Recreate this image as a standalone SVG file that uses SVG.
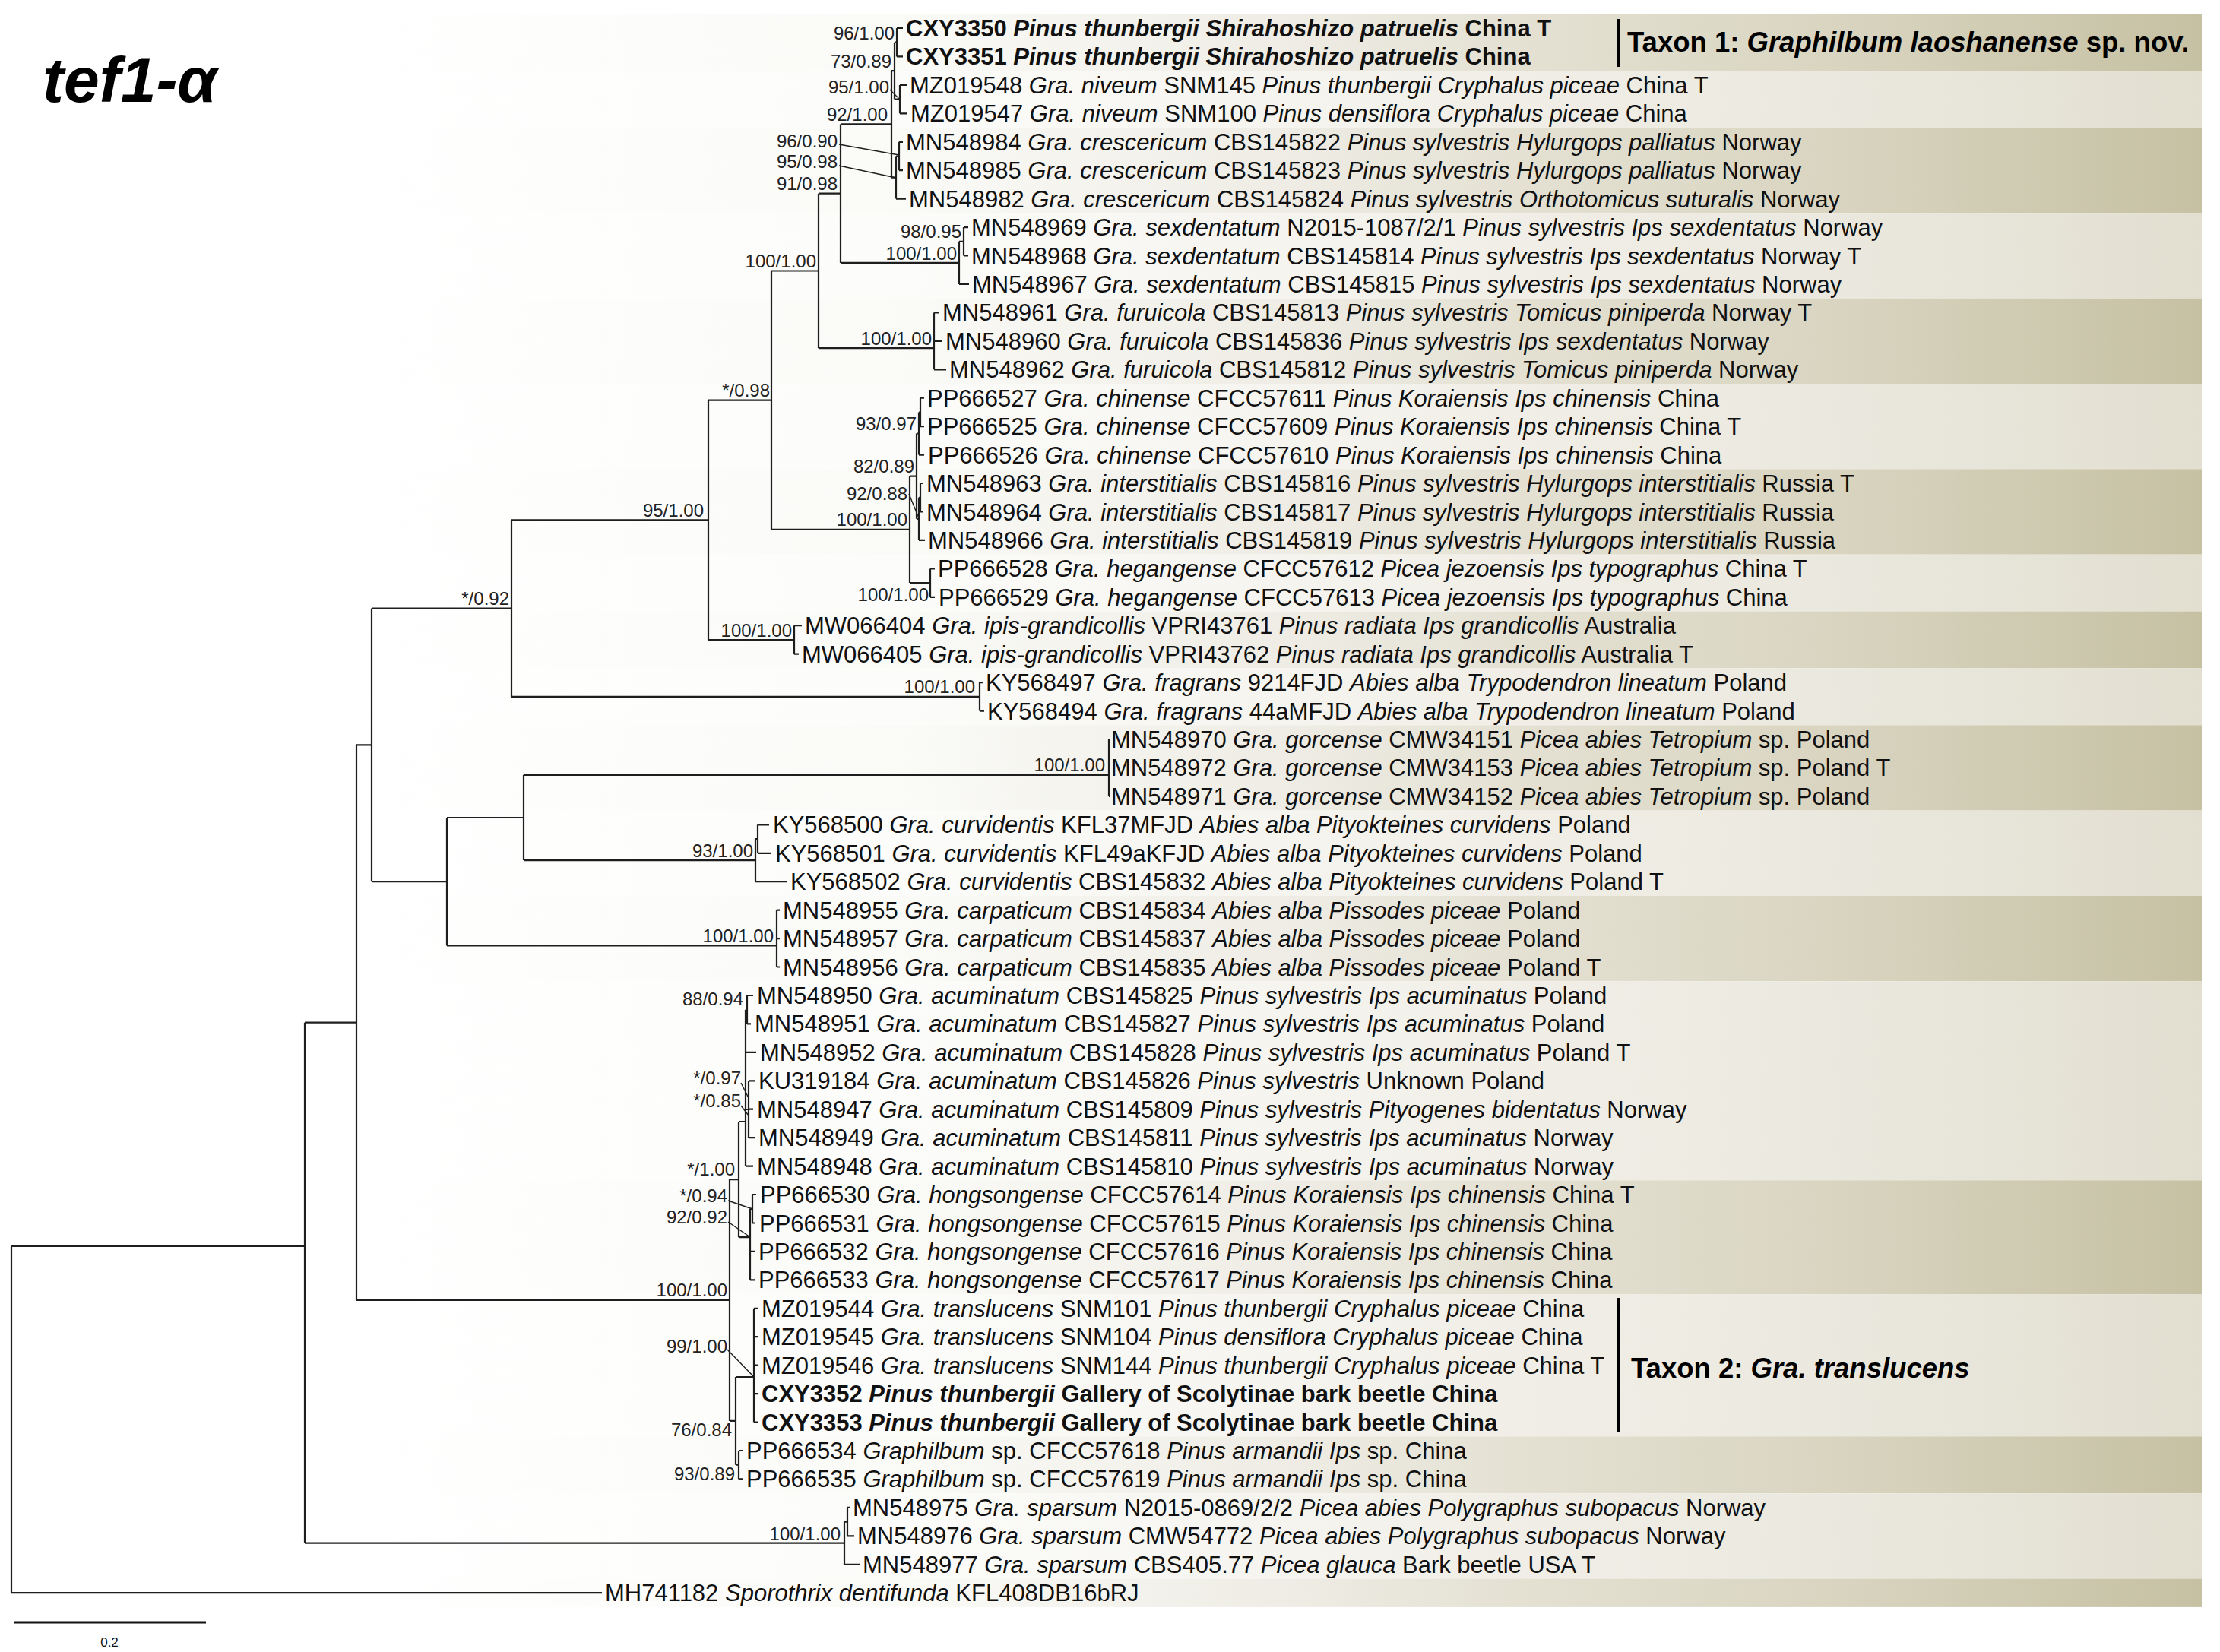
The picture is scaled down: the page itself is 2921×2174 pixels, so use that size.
<svg xmlns="http://www.w3.org/2000/svg" width="2921" height="2174" viewBox="0 0 2921 2174">
<style>
.t{font-family:"Liberation Sans",Arial,sans-serif;font-size:31px;fill:#111}
.i{font-style:italic}
.b{font-weight:bold}
.s{font-family:"Liberation Sans",Arial,sans-serif;font-size:24px;fill:#222;text-anchor:end}
.br{fill:none;stroke:#1e1e1e;stroke-width:2.2}
.ld{fill:none;stroke:#1e1e1e;stroke-width:1.4}
.tx{font-family:"Liberation Sans",Arial,sans-serif;font-size:36.5px;font-weight:bold;fill:#000}
</style>
<defs>
<linearGradient id="gd" gradientUnits="userSpaceOnUse" x1="480" y1="0" x2="2897" y2="0">
<stop offset="0" stop-color="#ffffff"/><stop offset="0.298" stop-color="#fafaf7"/><stop offset="0.505" stop-color="#eeece4"/><stop offset="0.629" stop-color="#e4e1d3"/><stop offset="0.794" stop-color="#d9d5c1"/><stop offset="1" stop-color="#c6c1a3"/>
</linearGradient>
<linearGradient id="gl" gradientUnits="userSpaceOnUse" x1="480" y1="0" x2="2897" y2="0">
<stop offset="0" stop-color="#ffffff"/><stop offset="0.298" stop-color="#fcfcfa"/><stop offset="0.505" stop-color="#f5f4ef"/><stop offset="0.629" stop-color="#f0eee6"/><stop offset="0.794" stop-color="#ebe9df"/><stop offset="1" stop-color="#e2dfd1"/>
</linearGradient>
</defs>
<rect width="2921" height="2174" fill="#ffffff"/>
<g id="bands">
<rect x="0" y="18.3" width="2897" height="74.9" fill="url(#gd)"/>
<rect x="0" y="93.2" width="2897" height="74.9" fill="url(#gl)"/>
<rect x="0" y="168.1" width="2897" height="112.3" fill="url(#gd)"/>
<rect x="0" y="280.4" width="2897" height="112.3" fill="url(#gl)"/>
<rect x="0" y="392.7" width="2897" height="112.3" fill="url(#gd)"/>
<rect x="0" y="505.0" width="2897" height="112.3" fill="url(#gl)"/>
<rect x="0" y="617.3" width="2897" height="112.4" fill="url(#gd)"/>
<rect x="0" y="729.7" width="2897" height="74.8" fill="url(#gl)"/>
<rect x="0" y="804.5" width="2897" height="74.9" fill="url(#gd)"/>
<rect x="0" y="879.4" width="2897" height="74.9" fill="url(#gl)"/>
<rect x="0" y="954.3" width="2897" height="112.3" fill="url(#gd)"/>
<rect x="0" y="1066.6" width="2897" height="112.3" fill="url(#gl)"/>
<rect x="0" y="1178.9" width="2897" height="112.4" fill="url(#gd)"/>
<rect x="0" y="1291.3" width="2897" height="262.0" fill="url(#gl)"/>
<rect x="0" y="1553.3" width="2897" height="149.8" fill="url(#gd)"/>
<rect x="0" y="1703.1" width="2897" height="187.2" fill="url(#gl)"/>
<rect x="0" y="1890.3" width="2897" height="74.9" fill="url(#gd)"/>
<rect x="0" y="1965.2" width="2897" height="112.3" fill="url(#gl)"/>
<rect x="0" y="2077.5" width="2897" height="37.4" fill="url(#gd)"/>
</g>
<text x="56" y="134" font-family="Liberation Sans, Arial, sans-serif" font-size="84" font-weight="bold" font-style="italic" fill="#000">tef1-α</text>
<g id="connectors">
<path class="br" d="M15 1640V2096.2M15 1640H401M15 2096.2H792M401 1345.7V2030.7M401 1345.7H469M401 2030.7H1111M469 980.4V1711M469 980.4H489M469 1711H960M489 800.6V1160.2M489 800.6H673M489 1160.2H588M673 684.3V916.9M673 684.3H932M673 916.9H1289M932 526.7V842M932 526.7H1015M932 842H1045M1015 356.5V696.9M1015 356.5H1077M1015 696.9H1197M1077 254.7V458.2M1077 254.7H1106M1077 458.2H1229M1106 163.4V345.9M1106 163.4H1173M1106 345.9H1262M1173 93.2V233.6M1173 93.2H1177M1173 233.6H1179M1177 55.7V130.6M1177 55.7H1180M1177 130.6H1184M1180 37V74.4M1180 37H1188M1180 74.4H1188M1184 111.9V149.3M1184 111.9H1193M1184 149.3H1194M1179 205.5V261.6M1179 205.5H1183M1179 261.6H1192M1183 186.8V224.2M1183 186.8H1188M1183 224.2H1188M1262 317.8V374M1262 317.8H1268M1262 374H1275M1268 299.1V336.5M1268 299.1H1274M1268 336.5H1274M1229 411.4V486.3M1229 411.4H1236M1229 448.8H1240M1229 486.3H1245M1197 626.7V767.1M1197 626.7H1206M1197 767.1H1224M1206 570.5V682.8M1206 570.5H1209M1206 682.8H1209M1209 542.5V598.6M1209 542.5H1211M1209 598.6H1216M1211 523.7V561.2M1211 523.7H1216M1211 561.2H1216M1209 654.8V710.9M1209 654.8H1211M1209 710.9H1217M1211 636V673.5M1211 636H1215M1211 673.5H1215M1224 748.4V785.8M1224 748.4H1230M1224 785.8H1230M1045 823.2V860.7M1045 823.2H1055M1045 860.7H1051M1289 898.1V935.6M1289 898.1H1293M1289 935.6H1295M588 1076V1244.4M588 1076H689M588 1244.4H1022M689 1019.8V1132.1M689 1019.8H1459M689 1132.1H994M1459 973V1047.9M1459 973H1461M1459 1010.4H1461M1459 1047.9H1461M994 1104V1160.2M994 1104H997M994 1160.2H1035M997 1085.3V1122.8M997 1085.3H1012M997 1122.8H1015M1022 1197.6V1272.5M1022 1197.6H1026M1022 1235.1H1026M1022 1272.5H1026M960 1552.1V1869.9M960 1552.1H972M960 1869.9H968M972 1476V1628.2M972 1476H981M972 1628.2H987M981 1328.7V1534.6M981 1328.7H983M981 1384.8H995M981 1460H985M981 1534.6H991M983 1310V1347.4M983 1310H991M983 1347.4H988M985 1422.3V1497.2M985 1422.3H993M985 1459.7H991M985 1497.2H993M987 1590.8V1684.4M987 1590.8H990M987 1646.9H993M987 1684.4H993M990 1572V1609.5M990 1572H995M990 1609.5H994M968 1812V1927.7M968 1812H992M968 1927.7H972M992 1721.8V1871.6M992 1721.8H997M992 1759.2H997M992 1796.7H997M992 1834.1H997M992 1871.6H997M972 1909V1946.4M972 1909H977M972 1946.4H977M1111 2002.6V2058.8M1111 2002.6H1115M1111 2058.8H1131M1115 1983.9V2021.3M1115 1983.9H1118M1115 2021.3H1124"/>
<path class="ld" d="M1171 118L1184 131M1104 190L1183 204M1104 218L1179 234M1196 650L1209 682M975 1425L985 1445M975 1455L985 1468M958 1580L990 1591M958 1608L987 1628M957 1776L992 1812"/>
</g>
<g id="support">
<text class="s" x="1177" y="52">96/1.00</text>
<text class="s" x="1173" y="89">73/0.89</text>
<text class="s" x="1170" y="123">95/1.00</text>
<text class="s" x="1168" y="159">92/1.00</text>
<text class="s" x="1102" y="194">96/0.90</text>
<text class="s" x="1102" y="221">95/0.98</text>
<text class="s" x="1102" y="250">91/0.98</text>
<text class="s" x="1074" y="352">100/1.00</text>
<text class="s" x="1265" y="313">98/0.95</text>
<text class="s" x="1259" y="342">100/1.00</text>
<text class="s" x="1226" y="454">100/1.00</text>
<text class="s" x="1013" y="522">*/0.98</text>
<text class="s" x="1206" y="566">93/0.97</text>
<text class="s" x="1203" y="622">82/0.89</text>
<text class="s" x="1194" y="658">92/0.88</text>
<text class="s" x="1194" y="692">100/1.00</text>
<text class="s" x="1222" y="791">100/1.00</text>
<text class="s" x="926" y="680">95/1.00</text>
<text class="s" x="1042" y="838">100/1.00</text>
<text class="s" x="670" y="796">*/0.92</text>
<text class="s" x="1283" y="912">100/1.00</text>
<text class="s" x="1454" y="1015">100/1.00</text>
<text class="s" x="991" y="1128">93/1.00</text>
<text class="s" x="1018" y="1240">100/1.00</text>
<text class="s" x="978" y="1323">88/0.94</text>
<text class="s" x="975" y="1427">*/0.97</text>
<text class="s" x="975" y="1457">*/0.85</text>
<text class="s" x="967" y="1547">*/1.00</text>
<text class="s" x="957" y="1582">*/0.94</text>
<text class="s" x="957" y="1610">92/0.92</text>
<text class="s" x="957" y="1706">100/1.00</text>
<text class="s" x="957" y="1780">99/1.00</text>
<text class="s" x="963" y="1890">76/0.84</text>
<text class="s" x="967" y="1948">93/0.89</text>
<text class="s" x="1106" y="2027">100/1.00</text>
</g>
<g id="tip-CXY3350"><text class="t b" x="1192" y="48">CXY3350 <tspan class="i">Pinus thunbergii Shirahoshizo patruelis</tspan> China T</text></g>
<g id="tip-CXY3351"><text class="t b" x="1192" y="85.4">CXY3351 <tspan class="i">Pinus thunbergii Shirahoshizo patruelis</tspan> China</text></g>
<g id="tip-MZ019548"><text class="t" x="1197" y="122.9">MZ019548 <tspan class="i">Gra. niveum</tspan> SNM145 <tspan class="i">Pinus thunbergii Cryphalus piceae</tspan> China T</text></g>
<g id="tip-MZ019547"><text class="t" x="1198" y="160.3">MZ019547 <tspan class="i">Gra. niveum</tspan> SNM100 <tspan class="i">Pinus densiflora Cryphalus piceae</tspan> China</text></g>
<g id="tip-MN548984"><text class="t" x="1192" y="197.8">MN548984 <tspan class="i">Gra. crescericum</tspan> CBS145822 <tspan class="i">Pinus sylvestris Hylurgops palliatus</tspan> Norway</text></g>
<g id="tip-MN548985"><text class="t" x="1192" y="235.2">MN548985 <tspan class="i">Gra. crescericum</tspan> CBS145823 <tspan class="i">Pinus sylvestris Hylurgops palliatus</tspan> Norway</text></g>
<g id="tip-MN548982"><text class="t" x="1196" y="272.6">MN548982 <tspan class="i">Gra. crescericum</tspan> CBS145824 <tspan class="i">Pinus sylvestris Orthotomicus suturalis</tspan> Norway</text></g>
<g id="tip-MN548969"><text class="t" x="1278" y="310.1">MN548969 <tspan class="i">Gra. sexdentatum</tspan> N2015-1087/2/1 <tspan class="i">Pinus sylvestris Ips sexdentatus</tspan> Norway</text></g>
<g id="tip-MN548968"><text class="t" x="1278" y="347.5">MN548968 <tspan class="i">Gra. sexdentatum</tspan> CBS145814 <tspan class="i">Pinus sylvestris Ips sexdentatus</tspan> Norway T</text></g>
<g id="tip-MN548967"><text class="t" x="1279" y="385">MN548967 <tspan class="i">Gra. sexdentatum</tspan> CBS145815 <tspan class="i">Pinus sylvestris Ips sexdentatus</tspan> Norway</text></g>
<g id="tip-MN548961"><text class="t" x="1240" y="422.4">MN548961 <tspan class="i">Gra. furuicola</tspan> CBS145813 <tspan class="i">Pinus sylvestris Tomicus piniperda</tspan> Norway T</text></g>
<g id="tip-MN548960"><text class="t" x="1244" y="459.8">MN548960 <tspan class="i">Gra. furuicola</tspan> CBS145836 <tspan class="i">Pinus sylvestris Ips sexdentatus</tspan> Norway</text></g>
<g id="tip-MN548962"><text class="t" x="1249" y="497.3">MN548962 <tspan class="i">Gra. furuicola</tspan> CBS145812 <tspan class="i">Pinus sylvestris Tomicus piniperda</tspan> Norway</text></g>
<g id="tip-PP666527"><text class="t" x="1220" y="534.7">PP666527 <tspan class="i">Gra. chinense</tspan> CFCC57611 <tspan class="i">Pinus Koraiensis Ips chinensis</tspan> China</text></g>
<g id="tip-PP666525"><text class="t" x="1220" y="572.2">PP666525 <tspan class="i">Gra. chinense</tspan> CFCC57609 <tspan class="i">Pinus Koraiensis Ips chinensis</tspan> China T</text></g>
<g id="tip-PP666526"><text class="t" x="1221" y="609.6">PP666526 <tspan class="i">Gra. chinense</tspan> CFCC57610 <tspan class="i">Pinus Koraiensis Ips chinensis</tspan> China</text></g>
<g id="tip-MN548963"><text class="t" x="1219" y="647">MN548963 <tspan class="i">Gra. interstitialis</tspan> CBS145816 <tspan class="i">Pinus sylvestris Hylurgops interstitialis</tspan> Russia T</text></g>
<g id="tip-MN548964"><text class="t" x="1219" y="684.5">MN548964 <tspan class="i">Gra. interstitialis</tspan> CBS145817 <tspan class="i">Pinus sylvestris Hylurgops interstitialis</tspan> Russia</text></g>
<g id="tip-MN548966"><text class="t" x="1221" y="721.9">MN548966 <tspan class="i">Gra. interstitialis</tspan> CBS145819 <tspan class="i">Pinus sylvestris Hylurgops interstitialis</tspan> Russia</text></g>
<g id="tip-PP666528"><text class="t" x="1234" y="759.4">PP666528 <tspan class="i">Gra. hegangense</tspan> CFCC57612 <tspan class="i">Picea jezoensis Ips typographus</tspan> China T</text></g>
<g id="tip-PP666529"><text class="t" x="1235" y="796.8">PP666529 <tspan class="i">Gra. hegangense</tspan> CFCC57613 <tspan class="i">Picea jezoensis Ips typographus</tspan> China</text></g>
<g id="tip-MW066404"><text class="t" x="1059" y="834.2">MW066404 <tspan class="i">Gra. ipis-grandicollis</tspan> VPRI43761 <tspan class="i">Pinus radiata Ips grandicollis</tspan> Australia</text></g>
<g id="tip-MW066405"><text class="t" x="1055" y="871.7">MW066405 <tspan class="i">Gra. ipis-grandicollis</tspan> VPRI43762 <tspan class="i">Pinus radiata Ips grandicollis</tspan> Australia T</text></g>
<g id="tip-KY568497"><text class="t" x="1297" y="909.1">KY568497 <tspan class="i">Gra. fragrans</tspan> 9214FJD <tspan class="i">Abies alba Trypodendron lineatum</tspan> Poland</text></g>
<g id="tip-KY568494"><text class="t" x="1299" y="946.6">KY568494 <tspan class="i">Gra. fragrans</tspan> 44aMFJD <tspan class="i">Abies alba Trypodendron lineatum</tspan> Poland</text></g>
<g id="tip-MN548970"><text class="t" x="1462" y="984">MN548970 <tspan class="i">Gra. gorcense</tspan> CMW34151 <tspan class="i">Picea abies Tetropium</tspan> sp. Poland</text></g>
<g id="tip-MN548972"><text class="t" x="1462" y="1021.4">MN548972 <tspan class="i">Gra. gorcense</tspan> CMW34153 <tspan class="i">Picea abies Tetropium</tspan> sp. Poland T</text></g>
<g id="tip-MN548971"><text class="t" x="1462" y="1058.9">MN548971 <tspan class="i">Gra. gorcense</tspan> CMW34152 <tspan class="i">Picea abies Tetropium</tspan> sp. Poland</text></g>
<g id="tip-KY568500"><text class="t" x="1017" y="1096.3">KY568500 <tspan class="i">Gra. curvidentis</tspan> KFL37MFJD <tspan class="i">Abies alba Pityokteines curvidens</tspan> Poland</text></g>
<g id="tip-KY568501"><text class="t" x="1020" y="1133.8">KY568501 <tspan class="i">Gra. curvidentis</tspan> KFL49aKFJD <tspan class="i">Abies alba Pityokteines curvidens</tspan> Poland</text></g>
<g id="tip-KY568502"><text class="t" x="1040" y="1171.2">KY568502 <tspan class="i">Gra. curvidentis</tspan> CBS145832 <tspan class="i">Abies alba Pityokteines curvidens</tspan> Poland T</text></g>
<g id="tip-MN548955"><text class="t" x="1030" y="1208.6">MN548955 <tspan class="i">Gra. carpaticum</tspan> CBS145834 <tspan class="i">Abies alba Pissodes piceae</tspan> Poland</text></g>
<g id="tip-MN548957"><text class="t" x="1030" y="1246.1">MN548957 <tspan class="i">Gra. carpaticum</tspan> CBS145837 <tspan class="i">Abies alba Pissodes piceae</tspan> Poland</text></g>
<g id="tip-MN548956"><text class="t" x="1030" y="1283.5">MN548956 <tspan class="i">Gra. carpaticum</tspan> CBS145835 <tspan class="i">Abies alba Pissodes piceae</tspan> Poland T</text></g>
<g id="tip-MN548950"><text class="t" x="996" y="1321">MN548950 <tspan class="i">Gra. acuminatum</tspan> CBS145825 <tspan class="i">Pinus sylvestris Ips acuminatus</tspan> Poland</text></g>
<g id="tip-MN548951"><text class="t" x="993" y="1358.4">MN548951 <tspan class="i">Gra. acuminatum</tspan> CBS145827 <tspan class="i">Pinus sylvestris Ips acuminatus</tspan> Poland</text></g>
<g id="tip-MN548952"><text class="t" x="1000" y="1395.8">MN548952 <tspan class="i">Gra. acuminatum</tspan> CBS145828 <tspan class="i">Pinus sylvestris Ips acuminatus</tspan> Poland T</text></g>
<g id="tip-KU319184"><text class="t" x="998" y="1433.3">KU319184 <tspan class="i">Gra. acuminatum</tspan> CBS145826 <tspan class="i">Pinus sylvestris</tspan> Unknown Poland</text></g>
<g id="tip-MN548947"><text class="t" x="996" y="1470.7">MN548947 <tspan class="i">Gra. acuminatum</tspan> CBS145809 <tspan class="i">Pinus sylvestris Pityogenes bidentatus</tspan> Norway</text></g>
<g id="tip-MN548949"><text class="t" x="998" y="1508.2">MN548949 <tspan class="i">Gra. acuminatum</tspan> CBS145811 <tspan class="i">Pinus sylvestris Ips acuminatus</tspan> Norway</text></g>
<g id="tip-MN548948"><text class="t" x="996" y="1545.6">MN548948 <tspan class="i">Gra. acuminatum</tspan> CBS145810 <tspan class="i">Pinus sylvestris Ips acuminatus</tspan> Norway</text></g>
<g id="tip-PP666530"><text class="t" x="1000" y="1583">PP666530 <tspan class="i">Gra. hongsongense</tspan> CFCC57614 <tspan class="i">Pinus Koraiensis Ips chinensis</tspan> China T</text></g>
<g id="tip-PP666531"><text class="t" x="999" y="1620.5">PP666531 <tspan class="i">Gra. hongsongense</tspan> CFCC57615 <tspan class="i">Pinus Koraiensis Ips chinensis</tspan> China</text></g>
<g id="tip-PP666532"><text class="t" x="998" y="1657.9">PP666532 <tspan class="i">Gra. hongsongense</tspan> CFCC57616 <tspan class="i">Pinus Koraiensis Ips chinensis</tspan> China</text></g>
<g id="tip-PP666533"><text class="t" x="998" y="1695.4">PP666533 <tspan class="i">Gra. hongsongense</tspan> CFCC57617 <tspan class="i">Pinus Koraiensis Ips chinensis</tspan> China</text></g>
<g id="tip-MZ019544"><text class="t" x="1002" y="1732.8">MZ019544 <tspan class="i">Gra. translucens</tspan> SNM101 <tspan class="i">Pinus thunbergii Cryphalus piceae</tspan> China</text></g>
<g id="tip-MZ019545"><text class="t" x="1002" y="1770.2">MZ019545 <tspan class="i">Gra. translucens</tspan> SNM104 <tspan class="i">Pinus densiflora Cryphalus piceae</tspan> China</text></g>
<g id="tip-MZ019546"><text class="t" x="1002" y="1807.7">MZ019546 <tspan class="i">Gra. translucens</tspan> SNM144 <tspan class="i">Pinus thunbergii Cryphalus piceae</tspan> China T</text></g>
<g id="tip-CXY3352"><text class="t b" x="1002" y="1845.1">CXY3352 <tspan class="i">Pinus thunbergii</tspan> Gallery of Scolytinae bark beetle China</text></g>
<g id="tip-CXY3353"><text class="t b" x="1002" y="1882.6">CXY3353 <tspan class="i">Pinus thunbergii</tspan> Gallery of Scolytinae bark beetle China</text></g>
<g id="tip-PP666534"><text class="t" x="982" y="1920">PP666534 <tspan class="i">Graphilbum</tspan> sp. CFCC57618 <tspan class="i">Pinus armandii Ips</tspan> sp. China</text></g>
<g id="tip-PP666535"><text class="t" x="982" y="1957.4">PP666535 <tspan class="i">Graphilbum</tspan> sp. CFCC57619 <tspan class="i">Pinus armandii Ips</tspan> sp. China</text></g>
<g id="tip-MN548975"><text class="t" x="1122" y="1994.9">MN548975 <tspan class="i">Gra. sparsum</tspan> N2015-0869/2/2 <tspan class="i">Picea abies Polygraphus subopacus</tspan> Norway</text></g>
<g id="tip-MN548976"><text class="t" x="1128" y="2032.3">MN548976 <tspan class="i">Gra. sparsum</tspan> CMW54772 <tspan class="i">Picea abies Polygraphus subopacus</tspan> Norway</text></g>
<g id="tip-MN548977"><text class="t" x="1135" y="2069.8">MN548977 <tspan class="i">Gra. sparsum</tspan> CBS405.77 <tspan class="i">Picea glauca</tspan> Bark beetle USA T</text></g>
<g id="tip-MH741182"><text class="t" x="796" y="2107.2">MH741182 <tspan class="i">Sporothrix dentifunda</tspan> KFL408DB16bRJ</text></g>
<g id="taxon1">
<rect x="2127" y="25" width="4" height="63" fill="#000"/>
<text class="tx" x="2141" y="68">Taxon 1: <tspan class="i">Graphilbum laoshanense</tspan> sp. nov.</text>
</g>
<g id="taxon2">
<rect x="2127" y="1708" width="4" height="176" fill="#000"/>
<text class="tx" x="2146" y="1813">Taxon 2: <tspan class="i">Gra. translucens</tspan></text>
</g>
<g id="scalebar">
<path d="M19 2135H271" stroke="#111" stroke-width="3" fill="none"/>
<text x="144" y="2167" font-family="Liberation Sans, Arial, sans-serif" font-size="17" text-anchor="middle" fill="#111">0.2</text>
</g>
</svg>
